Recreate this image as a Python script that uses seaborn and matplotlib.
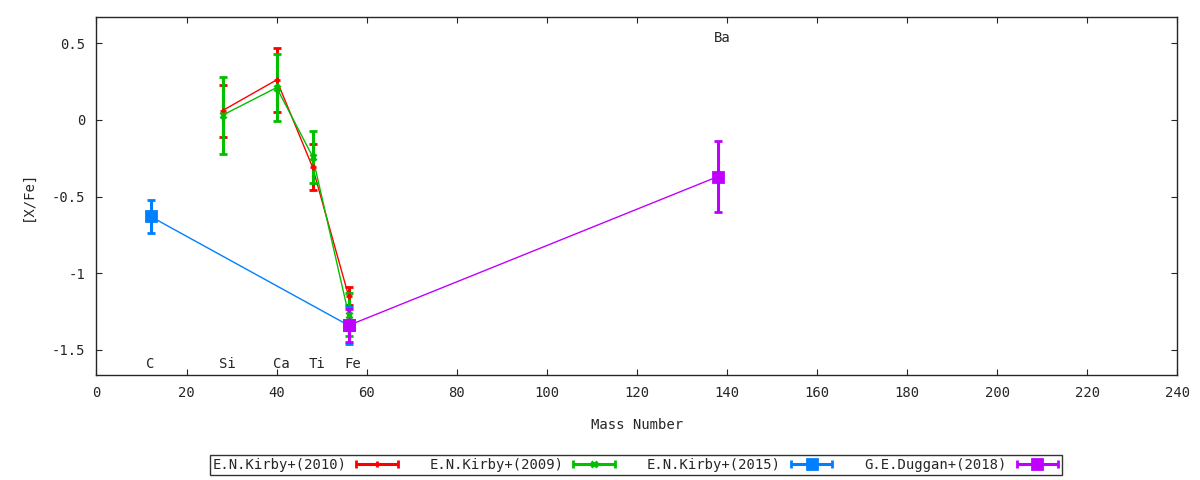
import matplotlib
matplotlib.use("Agg")
import matplotlib.pyplot as plt
from matplotlib.legend_handler import HandlerErrorbar
import seaborn as sns
import pandas as pd

# mass numbers of the elements
elements = ['C', 'Si', 'Ca', 'Ti', 'Fe', 'Ba']
masses = [12, 28, 40, 48, 56, 138]

# Kirby+(2010)
k10_x = [28, 40, 48, 56]
k10_y = [0.06, 0.26, -0.31, -1.15]
k10_err = [0.17, 0.21, 0.15, 0.06]

# Kirby+(2009)
k09_x = [28, 40, 48, 56]
k09_y = [0.03, 0.21, -0.24, -1.27]
k09_err = [0.25, 0.22, 0.17, 0.14]

# Kirby+(2015)
k15_x = [12, 56]
k15_y = [-0.63, -1.34]
k15_err = [0.11, 0.12]

# Duggan+(2018)
d18_x = [56, 138]
d18_y = [-1.34, -0.37]
d18_err = [0.11, 0.23]

series = [
    ('E.N.Kirby+(2010)', k10_x, k10_y, k10_err, '#ff0000', '+'),
    ('E.N.Kirby+(2009)', k09_x, k09_y, k09_err, '#00c000', 'x'),
    ('E.N.Kirby+(2015)', k15_x, k15_y, k15_err, '#0080ff', 's'),
    ('G.E.Duggan+(2018)', d18_x, d18_y, d18_err, '#c000ff', 's'),
]

sns.set_style('ticks')
plt.rcParams['font.family'] = ['DejaVu Sans Mono']
plt.rcParams['axes.unicode_minus'] = False
fs = 10

fig = plt.figure(figsize=(12, 4.8), dpi=100)
ax = fig.add_axes([0.0804, 0.2188, 0.9006, 0.7458])

handles = []
for name, xs, ys, errs, col, mk in series:
    ms = 6.5 if mk == 's' else 5
    df = pd.DataFrame({'x': xs, 'y': ys})
    sns.lineplot(data=df, x='x', y='y', ax=ax, color=col, lw=1.0,
                 sort=False, legend=False)
    ax.errorbar(xs, ys, yerr=errs, fmt=mk, color=col, ms=ms,
                mew=2, elinewidth=2.2, capsize=2.8, capthick=2.2)
    # legend sample drawn as horizontal bar, like the original
    h = ax.errorbar([-100], [-100], xerr=[1], fmt=mk, color=col, ms=ms,
                    mew=2, elinewidth=2.2, capsize=2.8, capthick=2.2, label=name)
    handles.append(h)

for el, m in zip(elements, masses):
    if el == 'Ba':
        ax.text(m - 0.9, 0.53, el, ha='left', va='center', fontsize=fs)
    else:
        ax.text(m - 0.9, -1.59, el, ha='left', va='center', fontsize=fs)

ax.set_xlim(0, 240)
ax.set_ylim(-1.663, 0.67)
ax.set_xticks(range(0, 241, 20))
ax.set_yticks([0.5, 0, -0.5, -1, -1.5])
ax.set_yticklabels(['0.5', '0', '-0.5', '-1', '-1.5'])
ax.tick_params(direction='in', top=True, right=True, length=4, labelsize=fs, pad=8)
for s in ax.spines.values():
    s.set_linewidth(1)
ax.set_xlabel('Mass Number', fontsize=fs, labelpad=13)
ax.set_ylabel('[X/Fe]', fontsize=fs, labelpad=12)

leg = fig.legend(handles=handles, loc='center', bbox_to_anchor=(0.53, 0.031), ncol=4,
                 markerfirst=False, frameon=True, fancybox=False, fontsize=fs,
                 handlelength=3.2, columnspacing=2.2, borderpad=0.2, handletextpad=0.6,
                 borderaxespad=0,
                 handler_map={type(handles[0]): HandlerErrorbar(xerr_size=1.5)})
leg.get_frame().set_edgecolor('black')
leg.get_frame().set_linewidth(1)

fig.savefig('out.png', dpi=100)
